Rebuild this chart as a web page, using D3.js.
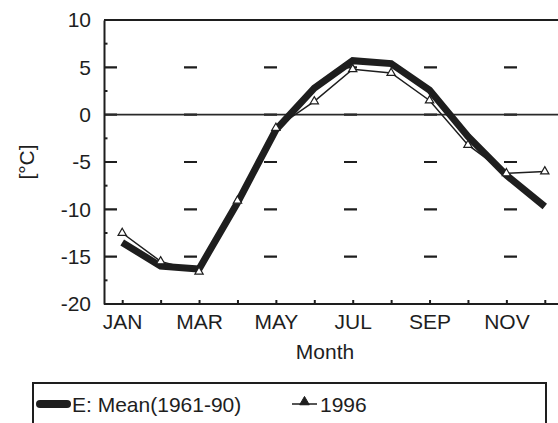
<!DOCTYPE html>
<html><head><meta charset="utf-8">
<script src="https://cdn.jsdelivr.net/npm/d3@7"></script>
<style>
html,body{margin:0;padding:0;background:#fff;}
svg{display:block;font-family:"Liberation Sans",Arial,sans-serif;}
</style></head>
<body>
<svg id="chart" width="558" height="423"></svg>
<script>
const months = ["JAN","FEB","MAR","APR","MAY","JUN","JUL","AUG","SEP","OCT","NOV","DEC"];
const labeledMonths = ["JAN","MAR","MAY","JUL","SEP","NOV"];
const meanValues = [-13.5,-16.0,-16.3,-9.3,-1.6,2.8,5.7,5.4,2.6,-2.3,-6.4,-9.7];
const y1996Values = [-12.5,-15.5,-16.6,-9.1,-1.4,1.4,4.8,4.4,1.5,-3.2,-6.2,-6.0];
const yTicks = [-20,-15,-10,-5,0,5,10];
const yMinorTicks = [-17.5,-12.5,-7.5,-2.5,2.5,7.5];
const gridValues = [-15,-10,-5,0,5];
const seriesNames = ["E: Mean(1961-90)","1996"];
const yLabel = "[°C]";
const xLabel = "Month";

const FS = 21;
const svg = d3.select("#chart");
const ink = "#1e1e1e";
const x = d3.scalePoint().domain(months).range([103,564]).padding(0.5);
const y = d3.scaleLinear().domain([-20,10]).range([304,20]);
const L = 104, R = 565, T = 20, B = 304;

// dashed gridlines
svg.append("g").selectAll("line").data(gridValues).join("line")
  .attr("x1",L).attr("x2",R).attr("y1",d=>y(d)).attr("y2",d=>y(d))
  .attr("stroke",ink).attr("stroke-width",2.2).attr("stroke-dasharray","13,67");
// zero line solid
svg.append("line").attr("x1",L).attr("x2",R).attr("y1",y(0)).attr("y2",y(0))
  .attr("stroke","#2a2a2a").attr("stroke-width",1.8);
// top frame
svg.append("line").attr("x1",L).attr("x2",R).attr("y1",y(10)).attr("y2",y(10))
  .attr("stroke",ink).attr("stroke-width",2);

// y axis
const yAxis = d3.axisLeft(y).tickValues(yTicks).tickSize(0).tickPadding(13).tickFormat(d=>String(d));
const gy = svg.append("g").attr("transform",`translate(${L},0)`).call(yAxis);
gy.select(".domain").attr("stroke",ink).attr("stroke-width",2);
gy.selectAll("text").attr("font-size",FS).attr("fill",ink).attr("font-family","Liberation Sans, Arial, sans-serif");
svg.append("g").selectAll("line").data(yMinorTicks).join("line")
  .attr("x1",L).attr("x2",L+3.5).attr("y1",d=>y(d)).attr("y2",d=>y(d))
  .attr("stroke",ink).attr("stroke-width",2);

// x axis
const xAxis = d3.axisBottom(x).tickSize(-4).tickPadding(10)
  .tickFormat(d=>labeledMonths.includes(d)?d:"");
const gx = svg.append("g").attr("transform",`translate(0,${B})`).call(xAxis);
gx.select(".domain").attr("d",`M${L},0H${R}`).attr("stroke",ink).attr("stroke-width",2.2);
gx.selectAll(".tick line").attr("stroke",ink).attr("stroke-width",2);
gx.selectAll("text").attr("font-size",FS).attr("fill",ink).attr("font-family","Liberation Sans, Arial, sans-serif");

// axis titles
svg.append("text").attr("transform","translate(34,162) rotate(-90)")
  .attr("text-anchor","middle").attr("font-size",FS).attr("fill",ink).text(yLabel);
svg.append("text").attr("x",325).attr("y",359)
  .attr("text-anchor","middle").attr("font-size",FS).attr("fill",ink).text(xLabel);

// series
const line = d3.line().x((d,i)=>x(months[i])).y(d=>y(d));
svg.append("path").datum(meanValues).attr("d",line)
  .attr("fill","none").attr("stroke",ink).attr("stroke-width",7).attr("stroke-linejoin","miter");
svg.append("path").datum(y1996Values).attr("d",line)
  .attr("fill","none").attr("stroke",ink).attr("stroke-width",1.5);
const tri = d3.symbol().type(d3.symbolTriangle).size(30);
svg.append("g").selectAll("path").data(y1996Values).join("path")
  .attr("transform",(d,i)=>`translate(${x(months[i])},${y(d)})`)
  .attr("d",tri).attr("fill","#fff").attr("stroke",ink).attr("stroke-width",1.2);

// legend
const lg = svg.append("g");
lg.append("rect").attr("x",33).attr("y",383).attr("width",513).attr("height",80)
  .attr("fill","none").attr("stroke",ink).attr("stroke-width",2);
lg.append("line").attr("x1",40).attr("x2",67).attr("y1",404).attr("y2",404)
  .attr("stroke",ink).attr("stroke-width",8).attr("stroke-linecap","round");
lg.append("text").attr("x",72).attr("y",412).attr("font-size",FS).attr("fill",ink).text(seriesNames[0]);
lg.append("line").attr("x1",292).attr("x2",317).attr("y1",404).attr("y2",404)
  .attr("stroke",ink).attr("stroke-width",1.5);
lg.append("path").attr("transform","translate(304.5,402)").attr("d",d3.symbol().type(d3.symbolTriangle).size(40))
  .attr("fill",ink).attr("stroke",ink).attr("stroke-width",1);
lg.append("text").attr("x",320).attr("y",412).attr("font-size",FS).attr("fill",ink).text(seriesNames[1]);
</script>
</body></html>
